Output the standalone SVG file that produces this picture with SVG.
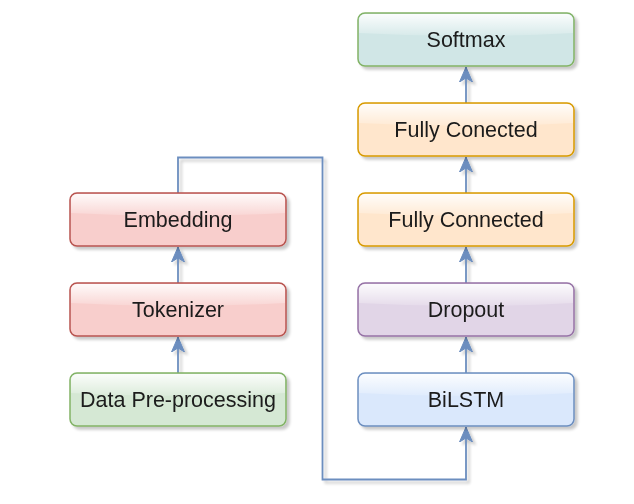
<svg xmlns="http://www.w3.org/2000/svg" width="634" height="504" viewBox="0 0 634 504">
<style>
  .lbl { font-family: "Liberation Sans", Arial, sans-serif; font-size: 21.5px; fill: #1a1a1a; text-anchor: middle; dominant-baseline: central; }
  .box { stroke-width: 1.5; }
  .glass { fill: url(#glass); stroke: none; }
  .conn { fill: none; stroke: #6c8ebf; stroke-width: 1.8; }
</style>
<defs>
  <linearGradient id="glass" x1="0" y1="0" x2="0" y2="1">
    <stop offset="0" stop-color="#ffffff" stop-opacity="0.9"/>
    <stop offset="1" stop-color="#ffffff" stop-opacity="0.15"/>
  </linearGradient>
  <filter id="shadow" x="-10%" y="-20%" width="130%" height="160%">
    <feGaussianBlur in="SourceAlpha" stdDeviation="1.6"/>
    <feOffset dx="3" dy="3" result="b"/>
    <feComponentTransfer><feFuncA type="linear" slope="0.22"/></feComponentTransfer>
    <feMerge><feMergeNode/><feMergeNode in="SourceGraphic"/></feMerge>
  </filter>
  <marker id="arrow" viewBox="0 0 16 14" refX="15" refY="7" markerWidth="16" markerHeight="14" markerUnits="userSpaceOnUse" orient="auto">
    <path d="M0,0.5 L15,7 L0,13.5 L4,7 Z" fill="#6c8ebf" stroke="#6c8ebf" stroke-width="1" stroke-linejoin="round"/>
  </marker>
</defs>
<rect width="634" height="504" fill="#ffffff"/>

<g id="connectors" filter="url(#shadow)">
  <path class="conn" d="M178,373 L178,337" marker-end="url(#arrow)"/>
  <path class="conn" d="M178,283 L178,247" marker-end="url(#arrow)"/>
  <path class="conn" d="M178,193 L178,157.5 L322.5,157.5 L322.5,479.5 L466,479.5 L466,427" marker-end="url(#arrow)"/>
  <path class="conn" d="M466,373 L466,337" marker-end="url(#arrow)"/>
  <path class="conn" d="M466,283 L466,247" marker-end="url(#arrow)"/>
  <path class="conn" d="M466,193 L466,157" marker-end="url(#arrow)"/>
  <path class="conn" d="M466,103 L466,67" marker-end="url(#arrow)"/>
</g>

<g id="data-preprocessing" filter="url(#shadow)">
  <rect class="box" x="70" y="373" width="216" height="53" rx="7" fill="#d5e8d4" stroke="#82b366"/>
  <path class="glass" d="M71,380 a6,6 0 0 1 6,-6 h202 a6,6 0 0 1 6,6 v13 q-107,6 -214,0 Z"/>
  <text class="lbl" x="178" y="399.5">Data Pre-processing</text>
</g>
<g id="tokenizer" filter="url(#shadow)">
  <rect class="box" x="70" y="283" width="216" height="53" rx="7" fill="#f8cecc" stroke="#b85450"/>
  <path class="glass" d="M71,290 a6,6 0 0 1 6,-6 h202 a6,6 0 0 1 6,6 v13 q-107,6 -214,0 Z"/>
  <text class="lbl" x="178" y="309.5">Tokenizer</text>
</g>
<g id="embedding" filter="url(#shadow)">
  <rect class="box" x="70" y="193" width="216" height="53" rx="7" fill="#f8cecc" stroke="#b85450"/>
  <path class="glass" d="M71,200 a6,6 0 0 1 6,-6 h202 a6,6 0 0 1 6,6 v13 q-107,6 -214,0 Z"/>
  <text class="lbl" x="178" y="219.5">Embedding</text>
</g>
<g id="bilstm" filter="url(#shadow)">
  <rect class="box" x="358" y="373" width="216" height="53" rx="7" fill="#dae8fc" stroke="#6c8ebf"/>
  <path class="glass" d="M359,380 a6,6 0 0 1 6,-6 h202 a6,6 0 0 1 6,6 v13 q-107,6 -214,0 Z"/>
  <text class="lbl" x="466" y="399.5">BiLSTM</text>
</g>
<g id="dropout" filter="url(#shadow)">
  <rect class="box" x="358" y="283" width="216" height="53" rx="7" fill="#e1d5e7" stroke="#9673a6"/>
  <path class="glass" d="M359,290 a6,6 0 0 1 6,-6 h202 a6,6 0 0 1 6,6 v13 q-107,6 -214,0 Z"/>
  <text class="lbl" x="466" y="309.5">Dropout</text>
</g>
<g id="fully-connected" filter="url(#shadow)">
  <rect class="box" x="358" y="193" width="216" height="53" rx="7" fill="#ffe6cc" stroke="#d79b00"/>
  <path class="glass" d="M359,200 a6,6 0 0 1 6,-6 h202 a6,6 0 0 1 6,6 v13 q-107,6 -214,0 Z"/>
  <text class="lbl" x="466" y="219.5">Fully Connected</text>
</g>
<g id="fully-conected" filter="url(#shadow)">
  <rect class="box" x="358" y="103" width="216" height="53" rx="7" fill="#ffe6cc" stroke="#d79b00"/>
  <path class="glass" d="M359,110 a6,6 0 0 1 6,-6 h202 a6,6 0 0 1 6,6 v13 q-107,6 -214,0 Z"/>
  <text class="lbl" x="466" y="129.5">Fully Conected</text>
</g>
<g id="softmax" filter="url(#shadow)">
  <rect class="box" x="358" y="13" width="216" height="53" rx="7" fill="#d0e6e6" stroke="#82b366"/>
  <path class="glass" d="M359,20 a6,6 0 0 1 6,-6 h202 a6,6 0 0 1 6,6 v13 q-107,6 -214,0 Z"/>
  <text class="lbl" x="466" y="39.5">Softmax</text>
</g>
</svg>
